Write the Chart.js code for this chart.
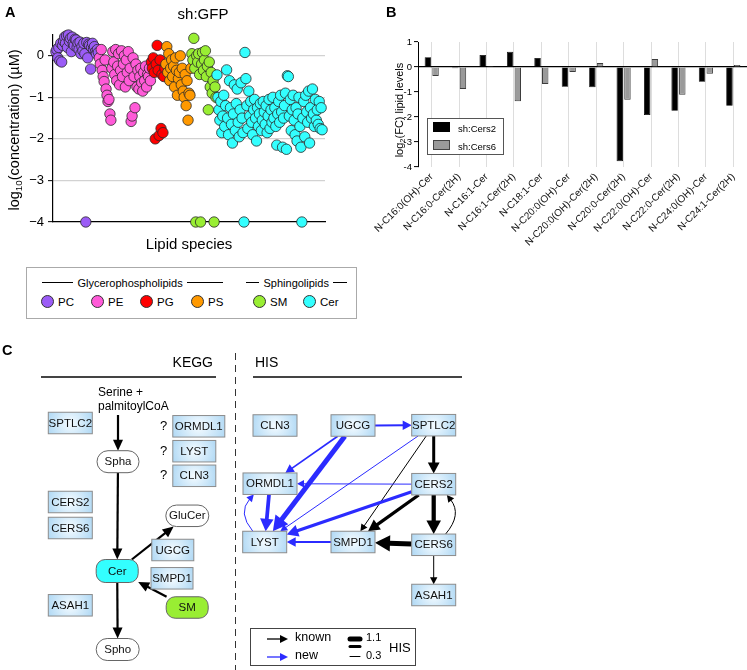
<!DOCTYPE html>
<html lang="en">
<head>
<meta charset="utf-8">
<title>Lipid levels and sphingolipid network</title>
<script src="https://cdn.jsdelivr.net/npm/chart.js@4.4.1/dist/chart.umd.min.js"></script>
<style>
  html, body { margin: 0; padding: 0; background: #fff; }
  body { position: relative; width: 747px; height: 670px; overflow: hidden;
         font-family: "Liberation Sans", Arial, Helvetica, sans-serif; color: #000; }
  canvas { position: absolute; }
  .t { position: absolute; white-space: nowrap; line-height: 1; }
  .mid { transform: translate(-50%, -50%); }
  .vert { transform: translate(-50%, -50%) rotate(-90deg); }
  .tag { font-weight: bold; font-size: 14.5px; }
  sub { font-size: 68%; vertical-align: -0.3em; line-height: 0; }
  #legA { position: absolute; left: 26px; top: 267px; width: 331px; height: 52px;
          border: 1.5px solid #aaa; box-sizing: border-box; }
  #legA .rule { position: absolute; top: 14px; height: 0; border-top: 1px solid #000; }
  #legA .grp { position: absolute; top: 9px; font-size: 11px; }
  #legA .dot { position: absolute; top: 27px; width: 13px; height: 13px; border-radius: 50%;
               border: 1px solid #333; box-sizing: border-box; }
  #legA .lab { position: absolute; top: 28px; font-size: 11.5px; }
  #legB { position: absolute; left: 427px; top: 118px; width: 77px; height: 37px;
          border: 1px solid #555; box-sizing: border-box; background: #fff; font-size: 9.5px; }
  #legB .sw { position: absolute; left: 5px; width: 17px; height: 10px; box-sizing: border-box; }
  #legB .lab { position: absolute; left: 30px; }
</style>
</head>
<body>
<canvas id="chartA" width="345" height="262" style="left:0;top:0"></canvas>
<canvas id="chartB" width="377" height="262" style="left:370px;top:0"></canvas>
<canvas id="chartC" width="747" height="330" style="left:0;top:340px"></canvas>

<div class="t tag" style="left:5px;top:5px">A</div>
<div class="t tag" style="left:386px;top:5px">B</div>
<div class="t tag" style="left:2px;top:343px">C</div>
<div class="t mid" style="left:203px;top:13px;font-size:15px">sh:GFP</div>
<div class="t vert" style="left:13.5px;top:130px;font-size:14.5px">log<sub>10</sub>(concentration) (µM)</div>
<div class="t vert" style="left:398.5px;top:110px;font-size:11px">log<sub>2</sub>(FC) lipid levels</div>

<div id="legA">
  <div class="rule" style="left:14.5px;width:31px"></div>
  <div class="grp" style="left:50.5px">Glycerophospholipids</div>
  <div class="rule" style="left:159.5px;width:36px"></div>
  <div class="rule" style="left:218.5px;width:13px"></div>
  <div class="grp" style="left:236.5px">Sphingolipids</div>
  <div class="rule" style="left:305.5px;width:14px"></div>
</div>

<div id="legB">
  <div class="sw" style="top:3px;background:#000"></div>
  <div class="lab" style="top:4px">sh:Cers2</div>
  <div class="sw" style="top:21px;background:#9a9a9a;border:1px solid #444"></div>
  <div class="lab" style="top:22px">sh:Cers6</div>
</div>

<script>
const FONT = '"Liberation Sans", Arial, Helvetica, sans-serif';

// ---------- panel A: log10 concentration (uM) of each species, in plot order ----------
const lipidClasses = ['PC', 'PE', 'PG', 'PS', 'SM', 'Cer'];
const pcLevels = [0.1, 0.15, -0.05, 0.2, -0.12, 0.3, -0.15, 0.25, 0.35, 0.45, 0.3, 0.48, 0.2, 0.5, 0.35,
  0.42, 0.1, 0.45, 0.3, 0.25, 0.4, 0.38, 0.2, 0.3, 0.15, 0.33, 0.05, 0.22, 0.12, 0.3,
  0.05, -4, 0.32, -0.05, 0.28, 0.25, -0.32, 0.2, 0.3, 0.15, 0.22, 0.1, 0.05, 0.15, 0.08];
const peLevels = [-0.05, -0.2, 0.15, -0.35, -0.5, -0.62, -0.1, -0.8, -0.95, -1.1, -1.05, -1.4, -1.55, -0.3,
  0.1, -0.15, -0.45, 0.15, -0.6, -0.25, 0.05, -0.7, -0.35, 0.12, -0.5, -0.2, 0.0, -0.75, -0.1, -0.4,
  0.1, -0.6, -0.3, -1.58, -1.45, -0.05, -0.5, -1.25, -0.2, -0.75, -0.35, -0.8, -0.5, -0.3, -0.65,
  -0.85, -0.4, -0.6, -0.25, -0.75, -0.45, -0.5, -0.3, -0.6];
const pgLevels = [-0.15, -0.3, -0.05, -0.4, -2.0, -0.2, 0.25, -0.35, -1.92, -0.1, -1.75, -0.45, -1.85, -0.5, -0.3];
const psLevels = [-0.2, 0.22, -0.4, 0.05, -0.6, -0.3, -0.1, -0.5, -0.25, -0.75, -0.05, -0.35, -0.95, -0.55,
  -0.4, 0.0, -0.7, -0.3, -0.85, -1.0, -0.45, -1.2, -0.6, -1.55, -0.9, -0.95, -0.3];
const smLevels = [0.05, -0.1, 0.42, -0.3, -4, 0.0, -0.15, 0.05, -0.45, -4, -0.2, 0.08, -0.35, -0.1, 0.12,
  -0.5, -0.25, -1.3, -0.15, -0.75, -0.4, -0.9, -0.6, -4, -0.75, -1.0];
const cerLevels = [-0.46, -1.0, -1.3, -1.55, -1.1, -1.85, -1.45, -0.95, -1.7, -1.2,
  -0.34, -1.5, -1.9, -0.6, -1.25, -1.65, -2.1, -1.4, -0.7, -1.8,
  -1.15, -0.8, -1.6, -1.95, -1.3, -0.65, -1.5, -1.85, -4, 0.08,
  -0.55, -1.2, -1.75, -0.85, -1.45, -1.1, -1.6, -1.9, -1.3, -1.05,
  -1.5, -2.05, -1.25, -1.7, -1.4, -1.15, -1.8, -1.55, -1.1, -1.35,
  -1.65, -1.2, -1.85, -1.45, -1.05, -1.75, -1.3, -1.6, -1.0, -1.5,
  -1.25, -1.7, -2.15, -1.4, -1.1, -1.6, -0.95, -1.35, -2.2, -1.5,
  -1.2, -0.9, -2.25, -0.48, -0.5, -1.45, -1.05, -1.8, -1.3, -0.95,
  -1.55, -1.9, -1.25, -2.05, -1.4, -1.0, -1.7, -2.2, -4, -1.5,
  -1.1, -1.95, -0.95, -1.35, -1.6, -0.85, -2.1, -1.25, -1.5, -0.8,
  -1.4, -1.7, -1.05, -1.55, -1.3, -1.65, -1.1, -1.75, -1.25, -1.78];
const yTicksA = [-4, -3, -2, -1, 0];

// ---------- panel B: log2 fold change vs sh:GFP ----------
const ceramides = ['N-C16:0(OH)-Cer', 'N-C16:0-Cer(2H)', 'N-C16:1-Cer', 'N-C16:1-Cer(2H)', 'N-C18:1-Cer',
  'N-C20:0(OH)-Cer', 'N-C20:0(OH)-Cer(2H)', 'N-C20:0-Cer(2H)', 'N-C22:0(OH)-Cer', 'N-C22:0-Cer(2H)',
  'N-C24:0(OH)-Cer', 'N-C24:1-Cer(2H)'];
const cers2FC = [0.39, -0.05, 0.48, 0.61, 0.36, -0.79, -0.81, -3.77, -1.92, -1.75, -0.59, -1.55];
const cers6FC = [-0.36, -0.88, 0.04, -1.37, -0.68, -0.2, 0.16, -1.31, 0.32, -1.11, -0.27, 0.08];

// ---------- panel C: KEGG pathway vs HIS network ----------
const keggPrecursor = ['Serine +', 'palmitoylCoA'];
const keggGenes = ['SPTLC2', 'CERS2', 'CERS6', 'ASAH1', 'ORMDL1', 'LYST', 'CLN3', 'UGCG', 'SMPD1'];
const keggUnknown = ['ORMDL1', 'LYST', 'CLN3'];
const keggMetabolites = ['Spha', 'GluCer', 'Cer', 'SM', 'Spho'];
const keggReactions = [['precursor', 'Spha'], ['Spha', 'Cer'], ['Cer', 'GluCer'], ['SM', 'Cer'], ['Cer', 'Spho']];
const hisGenes = ['CLN3', 'UGCG', 'SPTLC2', 'ORMDL1', 'CERS2', 'LYST', 'SMPD1', 'CERS6', 'ASAH1'];
// [from, to, HIS score, kind]
const hisEdges = [
  ['UGCG', 'SPTLC2', 0.5, 'new'],
  ['UGCG', 'ORMDL1', 0.45, 'new'],
  ['UGCG', 'LYST', 1.1, 'new'],
  ['SPTLC2', 'LYST', 0.3, 'new'],
  ['SPTLC2', 'SMPD1', 0.3, 'known'],
  ['SPTLC2', 'CERS2', 0.7, 'known'],
  ['CERS2', 'ORMDL1', 0.3, 'new'],
  ['CERS2', 'LYST', 0.75, 'new'],
  ['CERS2', 'SMPD1', 0.75, 'known'],
  ['CERS2', 'CERS6', 0.95, 'known'],
  ['CERS6', 'CERS2', 0.3, 'known'],
  ['CERS6', 'SMPD1', 1.1, 'known'],
  ['CERS6', 'ASAH1', 0.3, 'known'],
  ['ORMDL1', 'LYST', 0.85, 'new'],
  ['LYST', 'ORMDL1', 0.3, 'new'],
  ['SMPD1', 'LYST', 0.5, 'new']
];
const hisLegendScores = [1.1, 0.7, 0.3];

// layout of panel C: [x centre, y centre, width, height] in panel pixels
const keggPos = {
  precursor: [118, 60, 60, 30],
  SPTLC2: [70.3, 83, 44], CERS2: [70.3, 162, 44], CERS6: [70.3, 188, 44], ASAH1: [70.3, 265.3, 44],
  ORMDL1: [198.8, 86.3, 52], LYST: [194.3, 111.2, 43], CLN3: [194.3, 135.8, 43],
  UGCG: [172.8, 210, 42], SMPD1: [172, 238.3, 42],
  Spha: [118, 121.7, 42, 22], GluCer: [187.3, 175.8, 43, 21.5], Cer: [117.2, 231, 42, 23],
  SM: [187.2, 267.5, 42, 21.5], Spho: [117.7, 309.5, 43, 22]
};
const hisPos = {
  CLN3: [275, 85.5, 44], UGCG: [353, 85.5, 44], SPTLC2: [433.7, 85.2, 44],
  ORMDL1: [270, 143.7, 54], CERS2: [433.7, 144.2, 44],
  LYST: [264.7, 202, 44], SMPD1: [353, 202, 44], CERS6: [433.7, 204.8, 44],
  ASAH1: [433.7, 255, 44]
};
const curvedEdges = {'CERS6>CERS2': 1, 'LYST>ORMDL1': -1};
const classColors = ['#9b5cf6', '#ff5ad8', '#ff0000', '#ff9900', '#99ee33', '#33ffff'];
const edgeColors = {known: '#000000', new: '#2b2bff'};
const metaboliteFill = {Cer: '#33ffff', SM: '#99ee33'};

// ---------- chart A ----------
const classLevels = [pcLevels, peLevels, pgLevels, psLevels, smLevels, cerLevels];
let offset = 0;
const datasetsA = classLevels.map((vals, k) => {
  const ds = {
    label: lipidClasses[k],
    data: vals.map((v, i) => ({x: offset + i, y: v})),
    backgroundColor: classColors[k],
    borderColor: '#2a2a2a',
    borderWidth: 0.8,
    pointRadius: 5.2,
    clip: false,
    order: classLevels.length - k
  };
  offset += vals.length;
  return ds;
});
const nSpecies = offset;

new Chart(document.getElementById('chartA'), {
  type: 'scatter',
  data: {datasets: datasetsA},
  options: {
    responsive: false, animation: false, events: [],
    layout: {padding: {top: 35, right: 20, left: 0, bottom: 0}},
    plugins: {legend: {display: false}, tooltip: {enabled: false}},
    scales: {
      x: {
        type: 'linear', min: -3, max: nSpecies + 2,
        ticks: {display: false},
        grid: {display: false},
        border: {display: true, color: '#000', width: 1.2},
        title: {display: true, text: 'Lipid species', color: '#000',
                font: {size: 15, family: FONT}, padding: {top: 0, bottom: 8}},
        afterFit: s => { s.height = 40; }
      },
      y: {
        min: -4, max: 0.5,
        afterBuildTicks: s => { s.ticks = yTicksA.map(v => ({value: v})); },
        ticks: {color: '#000', padding: 4, font: {size: 13, family: FONT},
                callback: v => String(v).replace('-', '\u2212')},
        grid: {color: c => (c.tick && c.tick.value === -4) ? 'rgba(0,0,0,0)' : '#d2d2d2',
               lineWidth: 1.3, tickColor: '#000', tickWidth: 1, tickLength: 5},
        border: {display: true, color: '#000', width: 1.2},
        afterFit: s => { s.width = 53; }
      }
    }
  }
});

// legend of panel A
const legA = document.getElementById('legA');
const legDotX = [14, 64, 113, 164, 226, 276];
lipidClasses.forEach((name, k) => {
  const d = document.createElement('div');
  d.className = 'dot';
  d.style.left = legDotX[k] + 'px';
  d.style.background = classColors[k];
  legA.appendChild(d);
  const l = document.createElement('div');
  l.className = 'lab';
  l.style.left = (legDotX[k] + 17) + 'px';
  l.textContent = name;
  legA.appendChild(l);
});

// ---------- chart B ----------
new Chart(document.getElementById('chartB'), {
  type: 'bar',
  data: {
    labels: ceramides,
    datasets: [
      {label: 'sh:Cers2', data: cers2FC, backgroundColor: '#000', borderColor: '#000', borderWidth: 0.8,
       barPercentage: 0.84, categoryPercentage: 0.56},
      {label: 'sh:Cers6', data: cers6FC, backgroundColor: '#9a9a9a', borderColor: '#3c3c3c', borderWidth: 1,
       barPercentage: 0.84, categoryPercentage: 0.56}
    ]
  },
  options: {
    responsive: false, animation: false, events: [],
    layout: {padding: {top: 42, right: 0, left: 0, bottom: 0}},
    plugins: {legend: {display: false}, tooltip: {enabled: false}},
    scales: {
      x: {
        grid: {offset: false, color: '#dddddd', lineWidth: 1, drawTicks: false},
        border: {display: false},
        ticks: {autoSkip: false, minRotation: 45, maxRotation: 45, color: '#111', padding: 4,
                font: {size: 10, family: FONT}},
        afterFit: s => { s.height = 95; }
      },
      y: {
        min: -4, max: 1,
        ticks: {stepSize: 1, color: '#000', padding: 2, font: {size: 9.5, family: FONT}},
        grid: {color: c => (c.tick && c.tick.value === 0) ? '#000' : 'rgba(0,0,0,0)',
               lineWidth: 1.2, tickColor: '#000', tickWidth: 1, tickLength: 4},
        border: {display: true, color: '#000', width: 1},
        afterFit: s => { s.width = 48; }
      }
    }
  }
});

// ---------- chart C ----------
const scoreWidth = s => 1 + (s - 0.3) / 0.8 * 4;

const pathwayPlugin = {
  id: 'pathways',
  afterDatasetsDraw(chart) {
    const ctx = chart.ctx;
    const sx = v => chart.scales.x.getPixelForValue(v);
    const sy = v => chart.scales.y.getPixelForValue(v);
    const node = (p, h) => ({x: sx(p[0]), y: sy(p[1]), w: p[2], h: p[3] || h});

    function rr(x, y, w, h, r) {
      ctx.beginPath();
      ctx.moveTo(x + r, y); ctx.lineTo(x + w - r, y); ctx.arcTo(x + w, y, x + w, y + r, r);
      ctx.lineTo(x + w, y + h - r); ctx.arcTo(x + w, y + h, x + w - r, y + h, r);
      ctx.lineTo(x + r, y + h); ctx.arcTo(x, y + h, x, y + h - r, r);
      ctx.lineTo(x, y + r); ctx.arcTo(x, y, x + r, y, r);
      ctx.closePath();
    }
    function clip(n, tx, ty) {
      const dx = tx - n.x, dy = ty - n.y;
      const t = Math.min(n.w / 2 / Math.max(Math.abs(dx), 1e-6), n.h / 2 / Math.max(Math.abs(dy), 1e-6));
      return [n.x + dx * t, n.y + dy * t];
    }
    function arrow(x0, y0, x1, y1, lw, color, hl, hw, ctrl) {
      const fx = ctrl ? ctrl[0] : x0, fy = ctrl ? ctrl[1] : y0;
      const len = Math.hypot(x1 - fx, y1 - fy);
      const ux = (x1 - fx) / len, uy = (y1 - fy) / len;
      const bx = x1 - ux * hl, by = y1 - uy * hl;
      ctx.strokeStyle = color; ctx.fillStyle = color; ctx.lineWidth = lw; ctx.lineCap = 'butt';
      ctx.beginPath(); ctx.moveTo(x0, y0);
      if (ctrl) ctx.quadraticCurveTo(ctrl[0], ctrl[1], bx + ux, by + uy);
      else ctx.lineTo(bx + ux, by + uy);
      ctx.stroke();
      ctx.beginPath(); ctx.moveTo(x1, y1);
      ctx.lineTo(bx - uy * hw, by + ux * hw); ctx.lineTo(bx + uy * hw, by - ux * hw);
      ctx.closePath(); ctx.fill();
    }
    function geneBox(name, n) {
      const g = ctx.createRadialGradient(n.x, n.y, 1, n.x, n.y, n.w * 0.6);
      g.addColorStop(0, '#f2faff'); g.addColorStop(1, '#a9d5f3');
      ctx.fillStyle = g;
      ctx.fillRect(n.x - n.w / 2, n.y - n.h / 2, n.w, n.h);
      ctx.strokeStyle = '#8c8c8c'; ctx.lineWidth = 1;
      ctx.strokeRect(n.x - n.w / 2, n.y - n.h / 2, n.w, n.h);
      ctx.fillStyle = '#111'; ctx.font = '11.5px ' + FONT;
      ctx.textAlign = 'center'; ctx.textBaseline = 'middle';
      ctx.fillText(name, n.x, n.y + 0.5);
    }
    function metabolite(name, n) {
      const r = metaboliteFill[name] ? 9 : n.h / 2;
      rr(n.x - n.w / 2, n.y - n.h / 2, n.w, n.h, r);
      ctx.fillStyle = metaboliteFill[name] || '#fff'; ctx.fill();
      ctx.strokeStyle = '#666'; ctx.lineWidth = 1; ctx.stroke();
      ctx.fillStyle = '#111'; ctx.font = '11.5px ' + FONT;
      ctx.textAlign = 'center'; ctx.textBaseline = 'middle';
      ctx.fillText(name, n.x, n.y + 0.5);
    }

    ctx.save();
    // headers
    ctx.fillStyle = '#000'; ctx.font = '14px ' + FONT; ctx.textBaseline = 'middle';
    ctx.textAlign = 'right'; ctx.fillText('KEGG', sx(213), sy(23));
    ctx.textAlign = 'left'; ctx.fillText('HIS', sx(255), sy(23));
    ctx.strokeStyle = '#444'; ctx.lineWidth = 2;
    ctx.beginPath(); ctx.moveTo(sx(41), sy(37)); ctx.lineTo(sx(216), sy(37));
    ctx.moveTo(sx(253), sy(37)); ctx.lineTo(sx(462), sy(37)); ctx.stroke();
    ctx.setLineDash([7, 5]); ctx.lineWidth = 1; ctx.strokeStyle = '#333';
    ctx.beginPath(); ctx.moveTo(sx(235) + 0.5, sy(13)); ctx.lineTo(sx(235) + 0.5, sy(330)); ctx.stroke();
    ctx.setLineDash([]);

    // KEGG side
    ctx.fillStyle = '#000'; ctx.font = '12px ' + FONT; ctx.textAlign = 'left';
    ctx.fillText(keggPrecursor[0], sx(98), sy(53));
    ctx.fillText(keggPrecursor[1], sx(98), sy(67));
    keggReactions.forEach(([a, b]) => {
      const na = node(keggPos[a], 21.5), nb = node(keggPos[b], 21.5);
      const p0 = clip(na, nb.x, nb.y), p1 = clip(nb, na.x, na.y);
      arrow(p0[0], p0[1], p1[0], p1[1], 2.2, '#000', 11, 5);
    });
    keggGenes.forEach(g => geneBox(g, node(keggPos[g], 21.5)));
    keggMetabolites.forEach(m => metabolite(m, node(keggPos[m], 22)));
    ctx.fillStyle = '#000'; ctx.font = '13px ' + FONT; ctx.textAlign = 'center';
    keggUnknown.forEach(g => {
      const n = node(keggPos[g], 21.5);
      ctx.fillText('?', sx(163.5), n.y);
    });

    // HIS side
    hisEdges.forEach(([a, b, score, kind]) => {
      const na = node(hisPos[a], 21.5), nb = node(hisPos[b], 21.5);
      const lw = scoreWidth(score);
      const hl = 5 + lw * 2, hw = 2.6 + lw * 1.1;
      const side = curvedEdges[a + '>' + b];
      if (side) {
        const dir = nb.y < na.y ? -1 : 1;
        const s = [na.x + side * na.w * 0.27, na.y + dir * na.h / 2];
        const e = [nb.x + side * nb.w * 0.3, nb.y - dir * nb.h / 2];
        const c = [(s[0] + e[0]) / 2 + side * 16, (s[1] + e[1]) / 2];
        arrow(s[0], s[1], e[0], e[1], lw, edgeColors[kind], hl, hw, c);
      } else {
        const p0 = clip(na, nb.x, nb.y), p1 = clip(nb, na.x, na.y);
        arrow(p0[0], p0[1], p1[0], p1[1], lw, edgeColors[kind], hl, hw);
      }
    });
    hisGenes.forEach(g => geneBox(g, node(hisPos[g], 21.5)));

    // HIS legend
    ctx.strokeStyle = '#444'; ctx.lineWidth = 1;
    ctx.strokeRect(sx(250) + 0.5, sy(288) + 0.5, 165, 37);
    arrow(sx(267), sy(299), sx(288), sy(299), 1.3, edgeColors.known, 8, 4);
    arrow(sx(267), sy(317), sx(288), sy(317), 1.3, edgeColors.new, 8, 4);
    ctx.fillStyle = '#000'; ctx.font = '12.5px ' + FONT; ctx.textAlign = 'left'; ctx.textBaseline = 'middle';
    ctx.fillText('known', sx(295), sy(298));
    ctx.fillText('new', sx(295), sy(316));
    const legY = [299, 306.5, 316.5];
    hisLegendScores.forEach((s, i) => {
      ctx.strokeStyle = '#000'; ctx.lineWidth = scoreWidth(s); ctx.lineCap = 'round';
      ctx.beginPath(); ctx.moveTo(sx(350), sy(legY[i])); ctx.lineTo(sx(360), sy(legY[i])); ctx.stroke();
    });
    ctx.lineCap = 'butt';
    ctx.font = '11px ' + FONT;
    ctx.fillText(String(hisLegendScores[0]), sx(366), sy(298));
    ctx.fillText(String(hisLegendScores[2]), sx(366), sy(316));
    ctx.font = '13px ' + FONT;
    ctx.fillText('HIS', sx(389), sy(308));
    ctx.restore();
  }
};

new Chart(document.getElementById('chartC'), {
  type: 'scatter',
  data: {
    datasets: [
      {label: 'KEGG', data: keggGenes.concat(keggMetabolites).map(k => ({x: keggPos[k][0], y: keggPos[k][1]})), pointRadius: 0},
      {label: 'HIS', data: hisGenes.map(k => ({x: hisPos[k][0], y: hisPos[k][1]})), pointRadius: 0}
    ]
  },
  options: {
    responsive: false, animation: false, events: [],
    layout: {padding: 0},
    plugins: {legend: {display: false}, tooltip: {enabled: false}},
    scales: {
      x: {type: 'linear', min: 0, max: 747, display: false},
      y: {type: 'linear', min: 0, max: 330, reverse: true, display: false}
    }
  },
  plugins: [pathwayPlugin]
});
</script>
</body>
</html>
